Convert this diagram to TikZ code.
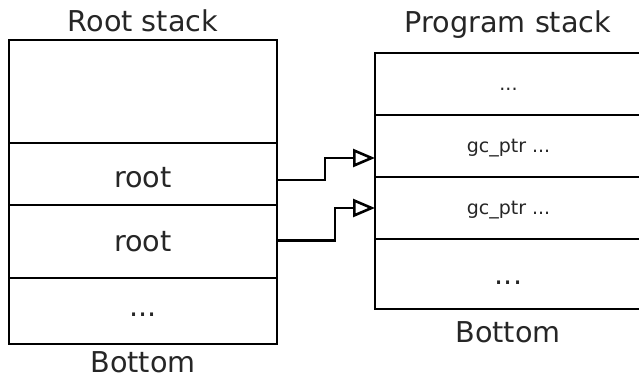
\documentclass[tikz,border=0pt]{standalone}
\usepackage{fontspec}
\setmainfont{DejaVu Sans}
\usetikzlibrary{arrows.meta,positioning}
\tikzset{
  cell/.style={draw,line width=2.8pt,outer sep=0pt,inner sep=0pt,text depth=0pt,
    font=\fontsize{28.7}{34}\selectfont,text=black!85},
  rootcell/.style={cell,minimum width=268pt},
  progcell/.style={cell,minimum width=267pt,minimum height=62pt},
  small/.style={text height=14pt,font=\fontsize{19}{23}\selectfont},
  title/.style={anchor=base,inner sep=1pt,font=\fontsize{28.7}{34}\selectfont,text=black!85},
  pointer/.style={-{Triangle[open,length=22pt,width=18pt]},line width=2.6pt}
}

\begin{document}
\begin{tikzpicture}[x=1pt,y=1pt]
  \useasboundingbox (0,0) rectangle (639,379);

  % root stack
  \node[rootcell,minimum height=103pt,anchor=north west] (rtop) at (9,339) {};
  \node[rootcell,minimum height=62pt,text height=28pt,below=0pt of rtop] (root1) {root};
  \node[rootcell,minimum height=73pt,text height=21pt,below=0pt of root1] (root2) {root};
  \node[rootcell,minimum height=66pt,text height=12pt,below=0pt of root2] (rdots) {...};
  \node[title] (rtitle) at (143,347) {Root stack};
  \node[title] (rbottom) at (143,6) {Bottom};

  % program stack
  \node[progcell,small,anchor=north west] (ptop) at (375,326) {...};
  \node[progcell,small,below=0pt of ptop] (gc1) {gc\_ptr ...};
  \node[progcell,small,below=0pt of gc1] (gc2) {gc\_ptr ...};
  \node[progcell,minimum height=70pt,text height=22pt,below=0pt of gc2] (pdots) {...};
  \node[title] (ptitle) at (508,346) {Program stack};
  \node[title] (pbottom) at (508,36) {Bottom};

  % pointers
  \draw[pointer] ([yshift=-6pt]root1.east) -- ++(48,0) |- ([yshift=-12pt]gc1.west);
  \draw[pointer] ([yshift=1pt]root2.east) -- ++(58,0) |- (gc2.west);
\end{tikzpicture}
\end{document}
